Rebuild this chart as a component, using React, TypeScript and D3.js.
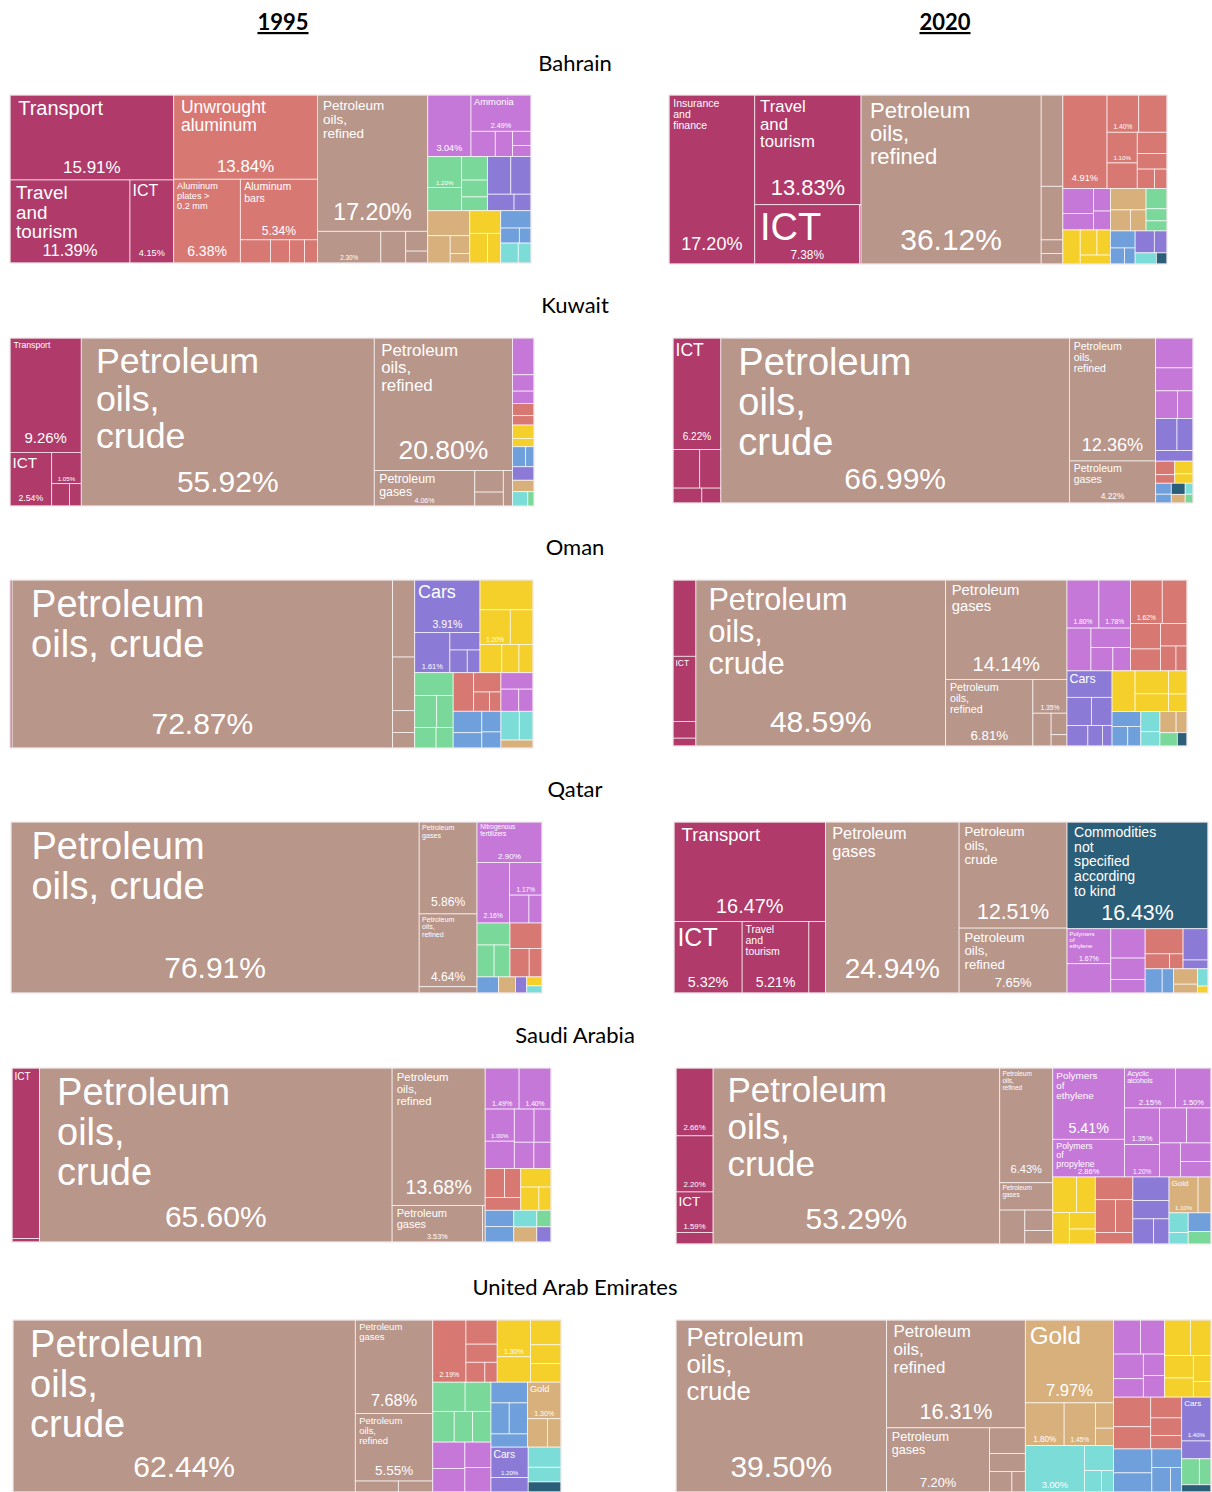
import React from "react";
import * as d3 from "d3";

// [sector, product label ("|" = line break), share of exports in %]
type Leaf = [string, string, number];

const SECTOR_COLORS: Record<string, string> = {
  Services: "#b03a6a",
  Metals: "#d87873",
  "Mineral Products": "#b9968a",
  "Chemical Products": "#c678d9",
  "Vegetable Products": "#7bd89b",
  Machines: "#6fa0dc",
  Transportation: "#8b7bd6",
  Foodstuffs: "#f5d02a",
  "Precious Metals": "#d8b07c",
  Instruments: "#7cdcd8",
  Miscellaneous: "#2b5e78",
};

const bahrain1995: Leaf[] = [
  ["Services", "Transport", 15.91],
  ["Services", "Travel|and|tourism", 11.39],
  ["Services", "ICT", 4.15],
  ["Metals", "Unwrought|aluminum", 13.84],
  ["Metals", "Aluminum|plates >|0.2 mm", 6.38],
  ["Metals", "Aluminum|bars", 5.34],
  ["Metals", "", 0.8],
  ["Metals", "", 0.5],
  ["Metals", "", 0.4],
  ["Metals", "", 0.34],
  ["Mineral Products", "Petroleum|oils,|refined", 17.2],
  ["Mineral Products", "Iron ores and|concentrates", 2.3],
  ["Mineral Products", "", 0.9],
  ["Mineral Products", "", 0.5],
  ["Mineral Products", "", 0.3],
  ["Chemical Products", "Acyclic|alcohols", 3.04],
  ["Chemical Products", "Ammonia", 2.49],
  ["Chemical Products", "", 0.7],
  ["Chemical Products", "", 0.5],
  ["Chemical Products", "", 0.3],
  ["Chemical Products", "", 0.23],
  ["Vegetable Products", "", 1.2],
  ["Vegetable Products", "", 0.9],
  ["Vegetable Products", "", 0.7],
  ["Vegetable Products", "", 0.5],
  ["Vegetable Products", "", 0.41],
  ["Transportation", "", 1.0],
  ["Transportation", "", 0.87],
  ["Transportation", "", 0.5],
  ["Transportation", "", 0.32],
  ["Precious Metals", "Diamonds", 1.2],
  ["Precious Metals", "", 0.7],
  ["Precious Metals", "", 0.4],
  ["Precious Metals", "", 0.21],
  ["Foodstuffs", "", 0.8],
  ["Foodstuffs", "", 0.6],
  ["Foodstuffs", "", 0.45],
  ["Machines", "", 0.6],
  ["Machines", "", 0.32],
  ["Machines", "", 0.2],
  ["Instruments", "", 0.4],
  ["Instruments", "", 0.29],
];

const bahrain2020: Leaf[] = [
  ["Services", "Insurance|and|finance", 17.2],
  ["Services", "Travel|and|tourism", 13.83],
  ["Services", "ICT", 7.38],
  ["Services", "", 0.1],
  ["Mineral Products", "Petroleum|oils,|refined", 36.12],
  ["Mineral Products", "", 2.35],
  ["Mineral Products", "", 1.38],
  ["Mineral Products", "", 0.35],
  ["Mineral Products", "", 0.27],
  ["Metals", "Unwrought|aluminum", 4.91],
  ["Metals", "", 1.4],
  ["Metals", "", 1.25],
  ["Metals", "", 1.1],
  ["Metals", "", 0.92],
  ["Metals", "", 0.75],
  ["Metals", "", 0.55],
  ["Metals", "", 0.4],
  ["Metals", "", 0.29],
  ["Chemical Products", "", 0.9],
  ["Chemical Products", "", 0.6],
  ["Chemical Products", "", 0.45],
  ["Chemical Products", "", 0.38],
  ["Foodstuffs", "", 0.7],
  ["Foodstuffs", "", 0.5],
  ["Foodstuffs", "", 0.4],
  ["Foodstuffs", "", 0.32],
  ["Precious Metals", "", 0.9],
  ["Precious Metals", "", 0.5],
  ["Precious Metals", "", 0.39],
  ["Vegetable Products", "", 0.5],
  ["Vegetable Products", "", 0.3],
  ["Vegetable Products", "", 0.25],
  ["Machines", "", 0.5],
  ["Machines", "", 0.27],
  ["Machines", "", 0.2],
  ["Transportation", "", 0.5],
  ["Transportation", "", 0.33],
  ["Instruments", "", 0.28],
  ["Miscellaneous", "", 0.14],
];

const kuwait1995: Leaf[] = [
  ["Services", "Transport", 9.26],
  ["Services", "ICT", 2.54],
  ["Services", "", 1.05],
  ["Services", "", 0.45],
  ["Services", "", 0.3],
  ["Mineral Products", "Petroleum|oils,|crude", 55.92],
  ["Mineral Products", "Petroleum|oils,|refined", 20.8],
  ["Mineral Products", "Petroleum|gases", 4.06],
  ["Mineral Products", "", 0.7],
  ["Mineral Products", "", 0.45],
  ["Mineral Products", "", 0.37],
  ["Chemical Products", "", 0.9],
  ["Chemical Products", "", 0.4],
  ["Chemical Products", "", 0.3],
  ["Metals", "", 0.3],
  ["Metals", "", 0.23],
  ["Foodstuffs", "", 0.33],
  ["Foodstuffs", "", 0.2],
  ["Machines", "", 0.3],
  ["Machines", "", 0.19],
  ["Transportation", "", 0.33],
  ["Precious Metals", "", 0.28],
  ["Instruments", "", 0.25],
  ["Vegetable Products", "", 0.1],
];

const kuwait2020: Leaf[] = [
  ["Services", "ICT", 6.22],
  ["Services", "Insurance|and|finance", 1.2],
  ["Services", "Transport", 0.95],
  ["Services", "", 0.5],
  ["Services", "", 0.33],
  ["Mineral Products", "Petroleum|oils,|crude", 66.99],
  ["Mineral Products", "Petroleum|oils,|refined", 12.36],
  ["Mineral Products", "Petroleum|gases", 4.22],
  ["Chemical Products", "", 1.3],
  ["Chemical Products", "", 1.0],
  ["Chemical Products", "", 0.7],
  ["Chemical Products", "", 0.5],
  ["Transportation", "Cars", 0.8],
  ["Transportation", "", 0.6],
  ["Transportation", "", 0.46],
  ["Metals", "", 0.3],
  ["Metals", "", 0.19],
  ["Foodstuffs", "", 0.27],
  ["Foodstuffs", "", 0.2],
  ["Machines", "", 0.2],
  ["Machines", "", 0.16],
  ["Miscellaneous", "", 0.18],
  ["Precious Metals", "", 0.14],
  ["Instruments", "", 0.1],
  ["Vegetable Products", "", 0.08],
];

const oman1995: Leaf[] = [
  ["Services", "", 0.4],
  ["Mineral Products", "Petroleum|oils, crude", 72.87],
  ["Mineral Products", "", 1.94],
  ["Mineral Products", "", 1.35],
  ["Mineral Products", "", 0.55],
  ["Mineral Products", "", 0.39],
  ["Transportation", "Cars", 3.91],
  ["Transportation", "", 1.61],
  ["Transportation", "", 0.6],
  ["Transportation", "", 0.45],
  ["Transportation", "", 0.33],
  ["Foodstuffs", "", 1.8],
  ["Foodstuffs", "", 1.2],
  ["Foodstuffs", "", 0.9],
  ["Foodstuffs", "", 0.7],
  ["Foodstuffs", "", 0.55],
  ["Foodstuffs", "", 0.45],
  ["Vegetable Products", "", 1.0],
  ["Vegetable Products", "", 0.8],
  ["Vegetable Products", "", 0.6],
  ["Vegetable Products", "", 0.5],
  ["Vegetable Products", "", 0.4],
  ["Metals", "", 0.9],
  ["Metals", "", 0.6],
  ["Metals", "", 0.35],
  ["Metals", "", 0.25],
  ["Machines", "", 0.7],
  ["Machines", "", 0.5],
  ["Machines", "", 0.45],
  ["Machines", "", 0.35],
  ["Chemical Products", "", 0.6],
  ["Chemical Products", "", 0.45],
  ["Chemical Products", "", 0.36],
  ["Instruments", "", 0.6],
  ["Instruments", "", 0.45],
  ["Precious Metals", "", 0.29],
];

const oman2020: Leaf[] = [
  ["Services", "", 2.05],
  ["Services", "ICT", 1.75],
  ["Services", "", 0.45],
  ["Services", "", 0.21],
  ["Mineral Products", "Petroleum|oils,|crude", 48.59],
  ["Mineral Products", "Petroleum|gases", 14.14],
  ["Mineral Products", "Petroleum|oils,|refined", 6.81],
  ["Mineral Products", "", 1.35],
  ["Mineral Products", "", 0.7],
  ["Mineral Products", "", 0.4],
  ["Mineral Products", "", 0.21],
  ["Chemical Products", "", 1.8],
  ["Chemical Products", "", 1.78],
  ["Chemical Products", "", 1.2],
  ["Chemical Products", "", 0.9],
  ["Chemical Products", "", 0.6],
  ["Chemical Products", "", 0.48],
  ["Metals", "", 1.62],
  ["Metals", "", 1.26],
  ["Metals", "", 0.9],
  ["Metals", "", 0.77],
  ["Metals", "", 0.7],
  ["Metals", "", 0.45],
  ["Metals", "", 0.32],
  ["Transportation", "Cars", 1.4],
  ["Transportation", "", 0.81],
  ["Transportation", "", 0.68],
  ["Transportation", "", 0.5],
  ["Transportation", "", 0.35],
  ["Transportation", "", 0.23],
  ["Foodstuffs", "", 1.1],
  ["Foodstuffs", "", 0.9],
  ["Foodstuffs", "", 0.7],
  ["Foodstuffs", "", 0.5],
  ["Foodstuffs", "", 0.38],
  ["Machines", "", 0.5],
  ["Machines", "", 0.36],
  ["Machines", "", 0.3],
  ["Instruments", "", 0.45],
  ["Instruments", "", 0.32],
  ["Precious Metals", "", 0.4],
  ["Precious Metals", "", 0.27],
  ["Vegetable Products", "", 0.27],
  ["Miscellaneous", "", 0.15],
];

const qatar1995: Leaf[] = [
  ["Mineral Products", "Petroleum|oils, crude", 76.91],
  ["Mineral Products", "Petroleum|gases", 5.86],
  ["Mineral Products", "Petroleum|oils,|refined", 4.64],
  ["Mineral Products", "", 0.4],
  ["Chemical Products", "Nitrogenous|fertilizers", 2.9],
  ["Chemical Products", "Polymers|of|ethylene", 2.16],
  ["Chemical Products", "Ammonia", 1.17],
  ["Chemical Products", "", 0.6],
  ["Chemical Products", "", 0.4],
  ["Vegetable Products", "", 0.8],
  ["Vegetable Products", "", 0.6],
  ["Vegetable Products", "", 0.56],
  ["Metals", "", 0.9],
  ["Metals", "", 0.6],
  ["Metals", "", 0.4],
  ["Machines", "", 0.38],
  ["Precious Metals", "", 0.3],
  ["Transportation", "", 0.2],
  ["Foodstuffs", "", 0.15],
  ["Instruments", "", 0.12],
];

const qatar2020: Leaf[] = [
  ["Services", "Transport", 16.47],
  ["Services", "ICT", 5.32],
  ["Services", "Travel|and|tourism", 5.21],
  ["Services", "", 1.3],
  ["Mineral Products", "Petroleum|gases", 24.94],
  ["Mineral Products", "Petroleum|oils,|crude", 12.51],
  ["Mineral Products", "Petroleum|oils,|refined", 7.65],
  ["Miscellaneous", "Commodities|not|specified|according|to kind", 16.43],
  ["Chemical Products", "Polymers|of|ethylene", 1.67],
  ["Chemical Products", "", 1.4],
  ["Chemical Products", "", 1.1],
  ["Chemical Products", "", 0.8],
  ["Chemical Products", "", 0.51],
  ["Metals", "Unwrought|aluminum", 1.04],
  ["Metals", "", 0.4],
  ["Metals", "", 0.22],
  ["Transportation", "", 0.85],
  ["Transportation", "", 0.24],
  ["Machines", "", 0.45],
  ["Machines", "", 0.3],
  ["Precious Metals", "", 0.4],
  ["Precious Metals", "", 0.23],
  ["Instruments", "", 0.2],
  ["Foodstuffs", "", 0.08],
];

const saudi1995: Leaf[] = [
  ["Services", "ICT", 5.0],
  ["Services", "", 0.1],
  ["Mineral Products", "Petroleum|oils,|crude", 65.6],
  ["Mineral Products", "Petroleum|oils,|refined", 13.68],
  ["Mineral Products", "Petroleum|gases", 3.53],
  ["Mineral Products", "", 0.1],
  ["Chemical Products", "Acyclic|alcohols", 1.49],
  ["Chemical Products", "Polymers|of|ethylene", 1.4],
  ["Chemical Products", "", 1.0],
  ["Chemical Products", "", 0.85],
  ["Chemical Products", "", 0.7],
  ["Chemical Products", "", 0.6],
  ["Chemical Products", "", 0.55],
  ["Chemical Products", "", 0.48],
  ["Metals", "", 0.6],
  ["Metals", "", 0.5],
  ["Metals", "", 0.49],
  ["Foodstuffs", "", 0.6],
  ["Foodstuffs", "", 0.45],
  ["Foodstuffs", "", 0.3],
  ["Machines", "", 0.5],
  ["Machines", "", 0.47],
  ["Instruments", "", 0.41],
  ["Precious Metals", "", 0.37],
  ["Vegetable Products", "", 0.25],
  ["Transportation", "", 0.23],
];

const saudi2020: Leaf[] = [
  ["Services", "Travel|and|tourism", 2.66],
  ["Services", "Transport", 2.2],
  ["Services", "ICT", 1.59],
  ["Services", "", 0.45],
  ["Mineral Products", "Petroleum|oils,|crude", 53.29],
  ["Mineral Products", "Petroleum|oils,|refined", 6.43],
  ["Mineral Products", "Petroleum|gases", 1.53],
  ["Mineral Products", "", 0.9],
  ["Mineral Products", "", 0.6],
  ["Mineral Products", "", 0.4],
  ["Chemical Products", "Polymers|of|ethylene", 5.41],
  ["Chemical Products", "Polymers|of|propylene", 2.86],
  ["Chemical Products", "Acyclic|alcohols", 2.15],
  ["Chemical Products", "", 1.5],
  ["Chemical Products", "", 1.35],
  ["Chemical Products", "", 1.2],
  ["Chemical Products", "", 1.0],
  ["Chemical Products", "", 0.9],
  ["Chemical Products", "", 0.75],
  ["Chemical Products", "", 0.6],
  ["Chemical Products", "", 0.5],
  ["Foodstuffs", "", 0.9],
  ["Foodstuffs", "", 0.7],
  ["Foodstuffs", "", 0.55],
  ["Foodstuffs", "", 0.45],
  ["Foodstuffs", "", 0.41],
  ["Metals", "", 0.9],
  ["Metals", "", 0.7],
  ["Metals", "", 0.6],
  ["Metals", "", 0.46],
  ["Transportation", "", 0.9],
  ["Transportation", "", 0.7],
  ["Transportation", "", 0.55],
  ["Transportation", "", 0.41],
  ["Precious Metals", "Gold", 1.1],
  ["Precious Metals", "", 0.49],
  ["Instruments", "", 0.4],
  ["Instruments", "", 0.23],
  ["Machines", "", 0.45],
  ["Vegetable Products", "", 0.3],
];

const uae1995: Leaf[] = [
  ["Mineral Products", "Petroleum|oils,|crude", 62.44],
  ["Mineral Products", "Petroleum|gases", 7.68],
  ["Mineral Products", "Petroleum|oils,|refined", 5.55],
  ["Mineral Products", "", 0.5],
  ["Mineral Products", "", 0.4],
  ["Metals", "", 2.19],
  ["Metals", "", 0.8],
  ["Metals", "", 0.6],
  ["Metals", "", 0.4],
  ["Metals", "", 0.26],
  ["Foodstuffs", "", 1.3],
  ["Foodstuffs", "", 0.9],
  ["Foodstuffs", "", 0.8],
  ["Foodstuffs", "", 0.6],
  ["Foodstuffs", "", 0.61],
  ["Vegetable Products", "", 1.0],
  ["Vegetable Products", "", 0.8],
  ["Vegetable Products", "", 0.7],
  ["Vegetable Products", "", 0.6],
  ["Vegetable Products", "", 0.6],
  ["Chemical Products", "", 0.9],
  ["Chemical Products", "", 0.8],
  ["Chemical Products", "", 0.7],
  ["Chemical Products", "", 0.68],
  ["Machines", "", 0.8],
  ["Machines", "", 0.6],
  ["Machines", "", 0.6],
  ["Machines", "", 0.51],
  ["Precious Metals", "Gold", 1.3],
  ["Precious Metals", "", 0.6],
  ["Precious Metals", "", 0.41],
  ["Transportation", "Cars", 1.2],
  ["Transportation", "", 0.57],
  ["Instruments", "", 0.7],
  ["Instruments", "", 0.51],
  ["Miscellaneous", "", 0.35],
];

const uae2020: Leaf[] = [
  ["Mineral Products", "Petroleum|oils,|crude", 39.5],
  ["Mineral Products", "Petroleum|oils,|refined", 16.31],
  ["Mineral Products", "Petroleum|gases", 7.2],
  ["Mineral Products", "", 1.0],
  ["Mineral Products", "", 0.7],
  ["Mineral Products", "", 0.5],
  ["Mineral Products", "", 0.3],
  ["Precious Metals", "Gold", 7.97],
  ["Precious Metals", "Diamonds", 1.8],
  ["Precious Metals", "", 1.45],
  ["Precious Metals", "", 0.5],
  ["Precious Metals", "", 0.34],
  ["Instruments", "Transmission|apparatus|for radio,|telephone|and TV", 3.0],
  ["Instruments", "", 0.8],
  ["Instruments", "", 0.4],
  ["Instruments", "", 0.28],
  ["Chemical Products", "", 1.0],
  ["Chemical Products", "", 0.9],
  ["Chemical Products", "", 0.8],
  ["Chemical Products", "", 0.6],
  ["Chemical Products", "", 0.5],
  ["Chemical Products", "", 0.5],
  ["Foodstuffs", "", 1.0],
  ["Foodstuffs", "", 0.8],
  ["Foodstuffs", "", 0.7],
  ["Foodstuffs", "", 0.6],
  ["Foodstuffs", "", 0.5],
  ["Foodstuffs", "", 0.3],
  ["Metals", "", 1.2],
  ["Metals", "", 0.9],
  ["Metals", "", 0.7],
  ["Metals", "", 0.6],
  ["Metals", "", 0.45],
  ["Machines", "", 1.0],
  ["Machines", "", 0.8],
  ["Machines", "", 0.6],
  ["Machines", "", 0.5],
  ["Machines", "", 0.3],
  ["Transportation", "Cars", 1.4],
  ["Transportation", "", 0.57],
  ["Vegetable Products", "", 0.5],
  ["Vegetable Products", "", 0.33],
  ["Miscellaneous", "", 0.23],
];

const YEARS = ["1995", "2020"];
const COUNTRIES = ["Bahrain", "Kuwait", "Oman", "Qatar", "Saudi Arabia", "United Arab Emirates"];
const DATASETS: Leaf[][][] = [
  [bahrain1995, bahrain2020],
  [kuwait1995, kuwait2020],
  [oman1995, oman2020],
  [qatar1995, qatar2020],
  [saudi1995, saudi2020],
  [uae1995, uae2020],
];

// page layout (pixels)
const WIDTH = 1212;
const HEIGHT = 1492;
const YEAR_X = [283, 945];
const COUNTRY_Y = [71, 313, 555, 797, 1043, 1295];
const BOXES: number[][][] = [
  [[10, 95, 531, 263], [669, 95, 1167, 264]],
  [[10, 338, 534, 506], [673, 338, 1193, 503]],
  [[10, 580, 533, 748], [673, 580, 1187, 746]],
  [[11, 822, 542, 993], [674, 822, 1208, 993]],
  [[12, 1068, 551, 1242], [676, 1068, 1211, 1244]],
  [[13, 1320, 561, 1492], [676, 1320, 1211, 1492]],
];

const LABEL_FONT = "'Liberation Sans', Arial, Helvetica, sans-serif";
const TITLE_FONT = "Lato, 'Open Sans', sans-serif";

function Treemap({ leaves, box }: { leaves: Leaf[]; box: number[] }) {
  const [x0, y0, x1, y1] = box;
  const w = x1 - x0;
  const h = y1 - y0;

  const groups = d3.groups(leaves, (d) => d[0]).map(([key, items]) => ({
    key,
    children: items.map(([, name, value]) => ({ name, value })),
  }));

  const root = d3
    .hierarchy<any>({ key: "root", children: groups })
    .sum((d: any) => d.value ?? 0)
    .sort((a: any, b: any) => {
      // services always come first, everything else largest first
      if (a.depth === 1) {
        if (a.data.key === "Services") return -1;
        if (b.data.key === "Services") return 1;
      }
      return (b.value ?? 0) - (a.value ?? 0);
    });

  d3.treemap<any>().size([w, h]).tile(d3.treemapSquarify.ratio(1))(root);

  return (
    <g transform={`translate(${x0},${y0})`}>
      {root.leaves().map((leaf: any, i: number) => {
        const lw = leaf.x1 - leaf.x0;
        const lh = leaf.y1 - leaf.y0;
        const color = SECTOR_COLORS[leaf.parent.data.key];
        const lines: string[] = leaf.data.name ? leaf.data.name.split("|") : [];
        const maxChars = d3.max(lines, (l) => l.length) ?? 1;
        const pctFs = Math.min(0.21 * lw, 0.2 * lh, 30);
        const nameFs = lines.length
          ? Math.min((1.1 * lw) / maxChars, (0.95 * lh - pctFs * 1.1) / (lines.length * 1.05), 38)
          : 0;
        const padX = Math.max(2.5, 0.05 * lw);
        const padY = 1 + 0.01 * lh;
        return (
          <g key={i}>
            <rect
              x={leaf.x0}
              y={leaf.y0}
              width={lw}
              height={lh}
              fill={color}
              stroke="#ffffff"
              strokeOpacity={0.8}
              strokeWidth={0.8}
            />
            {nameFs >= 6 && (
              <text
                fill="#ffffff"
                fontFamily={LABEL_FONT}
                fontSize={nameFs}
              >
                {lines.map((line, j) => (
                  <tspan
                    key={j}
                    x={leaf.x0 + padX}
                    y={leaf.y0 + padY + nameFs * 0.9 + j * nameFs * 1.05}
                  >
                    {line}
                  </tspan>
                ))}
              </text>
            )}
            {pctFs >= 6 && (
              <text
                x={(leaf.x0 + leaf.x1) / 2}
                y={leaf.y1 - Math.max(2.5, 0.085 * lh)}
                textAnchor="middle"
                fill="#ffffff"
                fontFamily={LABEL_FONT}
                fontSize={pctFs}
              >
                {`${leaf.data.value.toFixed(2)}%`}
              </text>
            )}
          </g>
        );
      })}
      <rect x={0} y={0} width={w} height={h} fill="none" stroke="#eadfe2" strokeWidth={1} />
    </g>
  );
}

export default function App() {
  return (
    <div style={{ position: "absolute", left: 0, top: 0, background: "#ffffff" }}>
      <svg width={WIDTH} height={HEIGHT} style={{ display: "block" }}>
        <rect width={WIDTH} height={HEIGHT} fill="#ffffff" />
        {YEARS.map((year, i) => (
          <text
            key={year}
            x={YEAR_X[i]}
            y={30}
            textAnchor="middle"
            fontFamily={TITLE_FONT}
            fontWeight="bold"
            fontSize={22}
            textDecoration="underline"
            fill="#000000"
          >
            {year}
          </text>
        ))}
        {COUNTRIES.map((country, r) => (
          <g key={country}>
            <text
              x={575}
              y={COUNTRY_Y[r]}
              textAnchor="middle"
              fontFamily={TITLE_FONT}
              fontSize={22}
              fill="#000000"
            >
              {country}
            </text>
            {DATASETS[r].map((leaves, c) => (
              <Treemap key={c} leaves={leaves} box={BOXES[r][c]} />
            ))}
          </g>
        ))}
      </svg>
    </div>
  );
}
